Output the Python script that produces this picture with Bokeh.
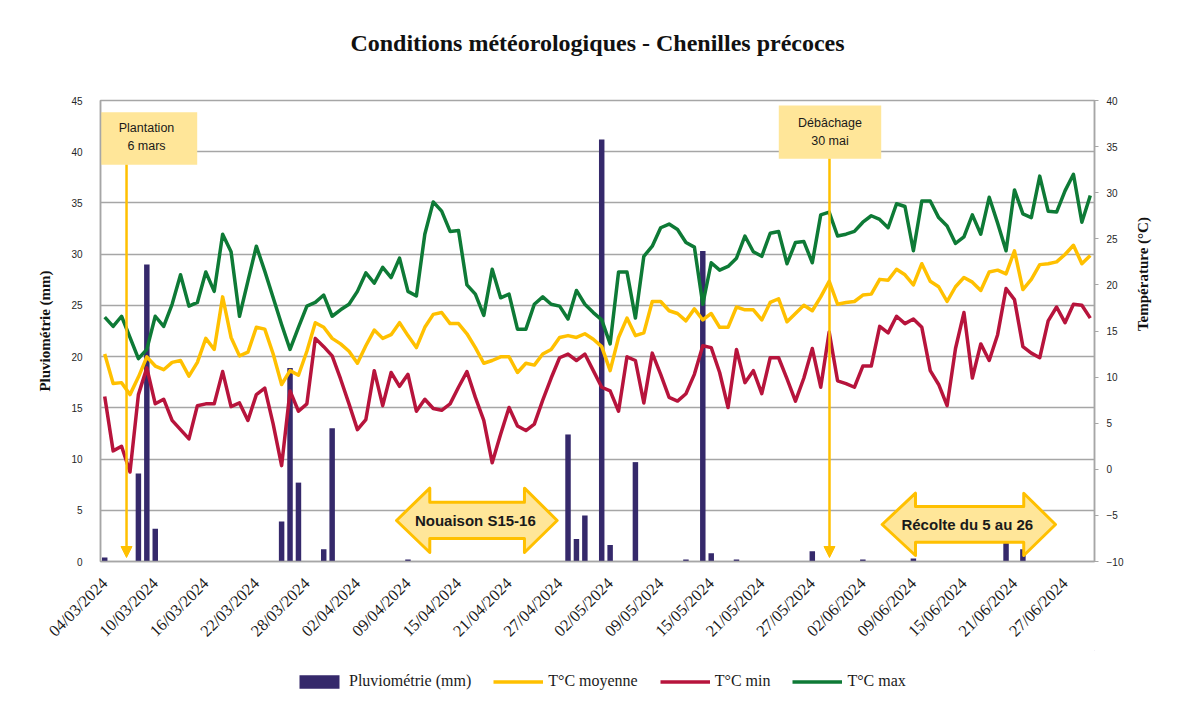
import math
from bokeh.plotting import figure
from bokeh.layouts import column
from bokeh.models import Range1d, LinearAxis, FixedTicker, Legend, LegendItem, Arrow, NormalHead
from bokeh.core.properties import value
from bokeh.embed import file_html
from bokeh.resources import INLINE

# ---------------- data ----------------
title_text = "Conditions météorologiques - Chenilles précoces"

tick_labels = ["04/03/2024", "10/03/2024", "16/03/2024", "22/03/2024", "28/03/2024",
               "02/04/2024", "09/04/2024", "15/04/2024", "21/04/2024", "27/04/2024",
               "02/05/2024", "09/05/2024", "15/05/2024", "21/05/2024", "27/05/2024",
               "02/06/2024", "09/06/2024", "15/06/2024", "21/06/2024", "27/06/2024"]

pluvio = [0.4, 0, 0, 0, 8.6, 29.0, 3.2, 0, 0, 0,
          0, 0, 0, 0, 0, 0, 0, 0, 0, 0,
          0, 3.9, 18.9, 7.7, 0, 0, 1.2, 13.0, 0, 0,
          0, 0, 0, 0, 0, 0, 0.2, 0, 0, 0,
          0, 0, 0, 0, 0, 0, 0, 0, 0, 0,
          0, 0, 0, 0, 0, 12.4, 2.2, 4.5, 0, 41.2,
          1.6, 0, 0, 9.7, 0, 0, 0, 0, 0, 0.2,
          0, 30.3, 0.8, 0, 0, 0.2, 0, 0, 0, 0,
          0, 0, 0, 0, 1.0, 0, 0, 0, 0, 0,
          0.2, 0, 0, 0, 0, 0, 0.3, 0, 0, 0,
          0, 0, 0, 0, 0, 0, 0, 1.8, 0, 1.2,
          0, 0, 0, 0, 0, 0, 0, 0]

t_moy = [12.5, 9.3, 9.4, 8.1, 10.0, 12.2, 11.2, 10.8, 11.6, 11.8,
         10.1, 11.6, 14.2, 13.0, 18.7, 14.3, 12.3, 12.7, 15.4, 15.2,
         12.5, 9.2, 10.7, 10.2, 12.8, 15.9, 15.4, 14.2, 13.6, 12.8,
         11.5, 13.4, 15.1, 14.2, 14.6, 15.9, 14.5, 13.2, 15.4, 16.8,
         17.0, 15.8, 15.8, 14.7, 13.2, 11.5, 11.8, 12.2, 12.2, 10.5,
         11.5, 11.3, 12.5, 13.0, 14.3, 14.5, 14.3, 14.7, 14.1, 13.3,
         10.7, 14.3, 16.4, 14.5, 14.8, 18.2, 18.2, 17.2, 16.9, 16.1,
         17.4, 16.2, 16.9, 15.4, 15.4, 17.6, 17.3, 17.3, 16.2, 18.1,
         18.5, 16.0, 16.9, 17.8, 17.2, 18.7, 20.4, 17.9, 18.1, 18.2,
         18.9, 19.0, 20.6, 20.5, 21.7, 21.1, 20.0, 22.3, 20.4, 19.8,
         18.2, 19.8, 20.8, 20.3, 19.4, 21.4, 21.6, 21.2, 23.7, 19.5,
         20.6, 22.2, 22.3, 22.5, 23.3, 24.3, 22.3, 23.2]

t_min = [7.9, 2.0, 2.5, -0.3, 8.1, 11.0, 7.1, 7.6, 5.3, 4.3,
         3.3, 6.9, 7.1, 7.1, 10.6, 6.8, 7.2, 5.3, 8.1, 8.8,
         4.9, 0.4, 8.5, 6.3, 7.1, 14.2, 13.3, 12.3, 9.8, 7.1,
         4.3, 5.4, 10.7, 6.9, 10.5, 9.0, 10.3, 6.3, 7.6, 6.6,
         6.4, 7.1, 8.9, 10.6, 7.8, 5.3, 0.7, 3.8, 6.7, 4.7,
         4.2, 4.9, 7.5, 9.9, 12.1, 12.5, 11.8, 12.5, 10.7, 8.9,
         8.5, 6.3, 12.2, 11.8, 7.2, 12.6, 10.3, 7.8, 7.4, 8.2,
         10.3, 13.4, 13.2, 10.5, 6.7, 13.0, 9.4, 10.7, 8.2, 12.1,
         12.1, 9.8, 7.4, 9.9, 13.1, 8.9, 14.9, 9.6, 9.3, 8.9,
         11.2, 11.2, 15.5, 14.8, 16.6, 15.8, 16.3, 15.4, 10.7, 9.2,
         6.9, 13.1, 17.0, 9.9, 13.6, 11.8, 14.6, 19.6, 18.4, 13.3,
         12.6, 12.1, 16.1, 17.6, 15.9, 17.9, 17.8, 16.4]

t_max = [16.5, 15.5, 16.6, 14.3, 12.0, 13.0, 16.6, 15.5, 17.9, 21.1,
         17.7, 18.1, 21.4, 19.3, 25.5, 23.6, 16.6, 20.4, 24.2, 21.5,
         18.6, 15.7, 13.0, 15.4, 17.7, 18.1, 18.9, 16.6, 17.3, 17.9,
         19.3, 21.3, 20.2, 21.9, 20.8, 22.9, 19.3, 18.8, 25.5, 29.0,
         28.0, 25.8, 25.9, 20.0, 19.0, 16.7, 21.7, 18.6, 19.0, 15.2,
         15.2, 17.9, 18.7, 17.9, 17.7, 16.3, 19.4, 17.9, 17.0, 16.2,
         13.6, 21.4, 21.4, 16.4, 23.1, 24.2, 26.2, 26.6, 26.0, 24.6,
         24.1, 17.9, 22.4, 21.6, 22.0, 22.9, 25.3, 23.6, 23.1, 25.6,
         25.8, 22.3, 24.6, 24.7, 22.4, 27.6, 27.9, 25.3, 25.5, 25.8,
         26.8, 27.5, 27.1, 26.2, 28.8, 28.5, 23.7, 29.1, 29.1, 27.3,
         26.4, 24.5, 25.2, 27.6, 25.5, 29.5, 26.7, 23.7, 30.3, 27.7,
         27.3, 31.8, 28.0, 27.9, 30.2, 32.0, 26.8, 29.7]

n = len(pluvio)
days = list(range(n))

# ---------------- style ----------------
SERIF = "Liberation Serif"
SANS = "Liberation Sans"
C_BAR = "#35296B"
C_MOY = "#FFC000"
C_MIN = "#B7143C"
C_MAX = "#0E7A36"
C_GRID = "#A6A6A6"
C_NOTE = "#FFE699"
W = 1177
BL, BR = 100, W - 1094   # frame left / right borders shared by all strips


def strip(height):
    f = figure(width=W, height=height, output_backend="svg", toolbar_location=None,
               x_range=Range1d(0, 1), y_range=Range1d(0, 1),
               x_axis_location=None, y_axis_location=None,
               min_border_left=BL, min_border_right=BR, min_border_top=0, min_border_bottom=0)
    f.outline_line_color = None
    f.xgrid.visible = False
    f.ygrid.visible = False
    return f


# ---------------- title strip ----------------
tf = strip(60)
tf.text(x=[0.5], y=[0.3], text=[title_text], text_font=value(SERIF), text_font_size=value("24px"),
        text_font_style="bold", text_color="#111111", text_align="center", text_baseline="middle")

# ---------------- main chart ----------------
p = figure(width=W, height=590, x_range=Range1d(-0.5, n - 0.5), y_range=Range1d(0, 45),
           output_backend="svg", toolbar_location=None,
           min_border_left=BL, min_border_right=BR, min_border_top=40, min_border_bottom=89)
p.extra_y_ranges = {"temp": Range1d(-10, 40)}
p.background_fill_color = "white"
p.border_fill_color = "white"
p.outline_line_color = C_GRID
p.outline_line_width = 1.5

# x axis
xa = p.xaxis[0]
xa.ticker = FixedTicker(ticks=[i * 6 for i in range(len(tick_labels))])
xa.major_label_overrides = {i * 6: lab for i, lab in enumerate(tick_labels)}
xa.major_label_orientation = math.pi / 4
xa.major_label_text_font = SERIF
xa.major_label_text_font_size = "16.5px"
xa.major_label_text_color = "#1a1a1a"
xa.major_label_standoff = 13
xa.major_tick_line_color = None
xa.minor_tick_line_color = None
xa.axis_line_color = C_GRID
xa.axis_line_width = 1.5

# left axis
ya = p.yaxis[0]
ya.ticker = FixedTicker(ticks=[0, 5, 10, 15, 20, 25, 30, 35, 40, 45])
ya.axis_label = "Pluviométrie (mm)"
ya.axis_label_text_font = SERIF
ya.axis_label_text_font_size = "15px"
ya.axis_label_text_font_style = "bold"
ya.axis_label_text_color = "#111111"
ya.axis_label_standoff = 15
ya.major_label_text_font = SANS
ya.major_label_text_font_size = "10px"
ya.major_label_text_color = "#262626"
ya.major_label_standoff = 12
ya.major_tick_line_color = None
ya.minor_tick_line_color = None
ya.axis_line_color = C_GRID
ya.axis_line_width = 1.5

# right axis
yr = LinearAxis(y_range_name="temp", ticker=FixedTicker(ticks=[-10, -5, 0, 5, 10, 15, 20, 25, 30, 35, 40]))
yr.axis_label = "Température (°C)"
yr.axis_label_text_font = SERIF
yr.axis_label_text_font_size = "15px"
yr.axis_label_text_font_style = "bold"
yr.axis_label_text_color = "#111111"
yr.axis_label_standoff = 17
if "axis_label_orientation" in yr.properties():
    yr.axis_label_orientation = math.pi / 2
yr.major_label_text_font = SANS
yr.major_label_text_font_size = "10px"
yr.major_label_text_color = "#262626"
yr.major_label_standoff = 8
yr.major_tick_out = 4
yr.major_tick_in = 0
yr.major_tick_line_color = C_GRID
yr.minor_tick_line_color = None
yr.axis_line_color = C_GRID
yr.axis_line_width = 1.5
p.add_layout(yr, "right")

p.xgrid.visible = False
p.ygrid.grid_line_color = C_GRID
p.ygrid.grid_line_width = 1.5

# series (columns first, lines drawn over them)
r_bar = p.vbar(x=days, top=pluvio, bottom=0, width=0.65, fill_color=C_BAR, line_color=None)
r_moy = p.line(days, t_moy, y_range_name="temp", line_color=C_MOY, line_width=3.5, line_join="round")
r_min = p.line(days, t_min, y_range_name="temp", line_color=C_MIN, line_width=3.5, line_join="round")
r_max = p.line(days, t_max, y_range_name="temp", line_color=C_MAX, line_width=3.5, line_join="round")

# ---------------- annotations ----------------
p.quad(left=[-1.09, 80.02], right=[10.98, 92.18], bottom=[38.72, 39.31], top=[43.86, 44.51],
       fill_color=C_NOTE, line_color=None)
p.text(x=[4.96, 4.96, 86.1, 86.1], y=[42.27, 40.51, 42.76, 41.0],
       text=["Plantation", "6 mars", "Débâchage", "30 mai"],
       text_font=value(SANS), text_font_size=value("12.5px"), text_color="#1a1a1a",
       text_align="center", text_baseline="middle")

for xa_, y0 in [(2.59, 38.72), (86.04, 39.31)]:
    p.add_layout(Arrow(end=NormalHead(size=11, fill_color=C_MOY, line_color=C_MOY),
                       x_start=xa_, y_start=y0, x_end=xa_, y_end=0.39,
                       line_color=C_MOY, line_width=2.5))


def double_arrow(xl, xhl, xhr, xr, yht, yst, yc, ysb, yhb):
    xs = [xl, xhl, xhl, xhr, xhr, xr, xhr, xhr, xhl, xhl]
    ys = [yc, yht, yst, yst, yht, yc, yhb, ysb, ysb, yhb]
    return xs, ys


for geo, txt, tx in [((34.64, 38.59, 49.83, 53.71, 7.156, 5.789, 4.002, 2.245, 0.879), "Nouaison S15-16", 44.0),
                     ((92.29, 96.25, 109.1, 112.87, 6.667, 5.369, 3.61, 1.884, 0.586), "Récolte du 5 au 26", 102.4)]:
    xs, ys = double_arrow(*geo)
    p.patch(xs, ys, fill_color=C_NOTE, line_color=C_MOY, line_width=3, line_join="round")
    p.text(x=[tx], y=[geo[6]], text=[txt], text_font=value(SANS), text_font_size=value("15px"),
           text_font_style="bold", text_color="#1a1a1a", text_align="center", text_baseline="middle")

# ---------------- legend strip ----------------
lg = strip(61)
# legend sample renderers live outside the strip's visible range
l_bar = lg.vbar(x=[5], top=[6], bottom=[5], width=0.5, fill_color=C_BAR, line_color=None)
l_moy = lg.line([5, 6], [5, 5], line_color=C_MOY, line_width=3.5)
l_min = lg.line([5, 6], [5, 5], line_color=C_MIN, line_width=3.5)
l_max = lg.line([5, 6], [5, 5], line_color=C_MAX, line_width=3.5)

legend = Legend(items=[LegendItem(label="Pluviométrie (mm)", renderers=[l_bar]),
                       LegendItem(label="T°C moyenne", renderers=[l_moy]),
                       LegendItem(label="T°C min", renderers=[l_min]),
                       LegendItem(label="T°C max", renderers=[l_max])],
                orientation="horizontal", location=(194, 21))
legend.glyph_width = 50
legend.glyph_height = 17
legend.label_standoff = 5
legend.spacing = 22
legend.padding = 0
legend.margin = 0
legend.border_line_color = None
legend.background_fill_alpha = 0
legend.label_text_font = SERIF
legend.label_text_font_size = "16px"
legend.label_text_color = "#1a1a1a"
lg.add_layout(legend)

layout = column(tf, p, lg, spacing=0)
open("out.html", "w").write(file_html(layout, INLINE))
